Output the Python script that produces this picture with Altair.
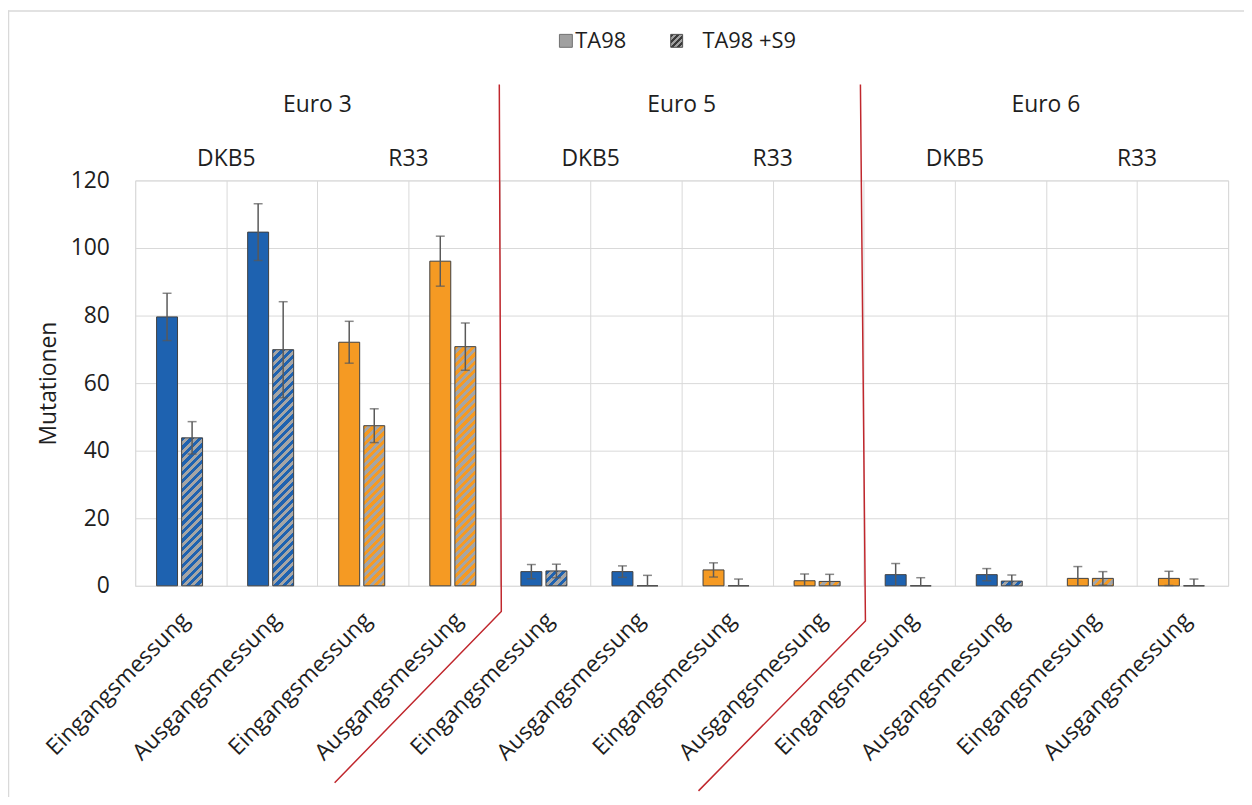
import altair as alt
import pandas as pd

# ---------------- data ----------------
groups = ["Euro 3", "Euro 5", "Euro 6"]
filters = ["DKB5", "R33"]
measures = ["Eingangsmessung", "Ausgangsmessung"]
series = ["TA98", "TA98 +S9"]

ta98 = [79.6, 104.7, 72.1, 96.1, 4.2, 4.2, 4.7, 1.5, 3.3, 3.3, 2.2, 2.2]
ta98_err = [7.0, 8.4, 6.2, 7.4, 2.1, 1.7, 2.1, 2.0, 3.3, 1.8, 3.5, 2.1]
s9 = [43.8, 69.9, 47.4, 70.8, 4.4, 0.0, 0.0, 1.3, 0.0, 1.4, 2.2, 0.0]
s9_err = [4.8, 14.2, 5.0, 7.0, 2.0, 3.1, 2.0, 2.1, 2.4, 1.8, 2.0, 2.0]

y_ticks = [0, 20, 40, 60, 80, 100, 120]

# red divider annotations (x in category units, y in data units)
divider1_x = [3.998, 4.02, 2.19]
divider1_y = [148.4, -7.6, -58.3]
divider2_x = [7.963, 8.018, 6.185]
divider2_y = [148.4, -10.4, -60.7]

# ---------------- style ----------------
W, H = 1100, 408
FONT = "Open Sans"
TXT = "#1E1E1E"
BLUE = "#1E62B0"
ORANGE = "#F59A23"
GREY = "#A5A5A5"
GRID = "#D9D9D9"
n_cat = 12
cat_px = W / n_cat
y_px = H / 120.0


def hatch(w, h, c1, c2, period):
    w = max(w, 0.5)
    h = max(h, 0.5)
    s = (w + h) / (w * w + h * h)
    n = (w + h) / period
    stops = []
    k = 0
    while k < n:
        a = min(k / n, 1)
        b = min((k + 0.5) / n, 1)
        c = min((k + 1) / n, 1)
        stops += [
            {"offset": a, "color": c1},
            {"offset": b, "color": c1},
            {"offset": b, "color": c2},
            {"offset": c, "color": c2},
        ]
        k += 1
    return {"gradient": "linear", "x1": 0, "y1": 0, "x2": w * s, "y2": h * s, "stops": stops}


rows = []
for i in range(n_cat):
    col = BLUE if (i // 2) % 2 == 0 else ORANGE
    for sidx, (vals, errs, a, b) in enumerate([(ta98, ta98_err, 0.235, 0.465), (s9, s9_err, 0.51, 0.74)]):
        v, e = vals[i], errs[i]
        rows.append({
            "key": f"k{i}_{sidx}",
            "series": series[sidx],
            "x0": i + a,
            "x1": i + b,
            "xc": i + (a + b) / 2,
            "val": v,
            "zero": 0.0,
            "lo": max(0.0, v - e),
            "hi": v + e,
            "has_lo": (v - e) > 0,
            "color": col,
        })
df = pd.DataFrame(rows)
df_ta = df[df["series"] == "TA98"]
df_s9 = df[df["series"] == "TA98 +S9"]

xscale = alt.Scale(domain=[0, 12])
yscale = alt.Scale(domain=[0, 120], nice=False)

x_axis = alt.Axis(values=list(range(13)), labels=False, ticks=False, domain=False,
                  grid=True, gridColor=GRID, gridWidth=1, title=None)
y_axis = alt.Axis(values=y_ticks, grid=True, gridColor=GRID, gridWidth=1, domain=False,
                  ticks=False, labelFont=FONT, labelFontSize=23, labelColor=TXT,
                  labelPadding=26, title="Mutationen", titleFont=FONT, titleFontSize=23,
                  titleFontWeight="normal", titleColor=TXT, titlePadding=10)

grid = alt.Chart(df).mark_bar(opacity=0).encode(
    x=alt.X("x0:Q", scale=xscale, axis=x_axis),
    x2="x1:Q",
    y=alt.Y("val:Q", scale=yscale, axis=y_axis),
    y2="zero:Q",
)

bars_ta = alt.Chart(df_ta).mark_bar(stroke="#404040", strokeWidth=1).encode(
    x=alt.X("x0:Q", scale=xscale),
    x2="x1:Q",
    y=alt.Y("val:Q", scale=yscale),
    y2="zero:Q",
    fill=alt.Fill("color:N", scale=None),
)

conds = []
for _, r in df_s9.iterrows():
    g = hatch(0.23 * cat_px, r["val"] * y_px, r["color"], GREY, 8.5)
    conds.append({"test": f"datum.key === '{r['key']}'", "value": g})

bars_s9 = alt.Chart(df_s9).mark_bar(stroke="#404040", strokeWidth=1).encode(
    x=alt.X("x0:Q", scale=xscale),
    x2="x1:Q",
    y=alt.Y("val:Q", scale=yscale),
    y2="zero:Q",
    fill={"condition": conds, "value": GREY},
)

err_rule = alt.Chart(df).mark_rule(color="#595959", strokeWidth=1.5).encode(
    x=alt.X("xc:Q", scale=xscale),
    y=alt.Y("lo:Q", scale=yscale),
    y2="hi:Q",
)
cap_hi = alt.Chart(df).mark_tick(color="#595959", thickness=1.5, size=9, orient="horizontal").encode(
    x=alt.X("xc:Q", scale=xscale),
    y=alt.Y("hi:Q", scale=yscale),
)
cap_lo = alt.Chart(df[df["has_lo"]]).mark_tick(color="#595959", thickness=1.5, size=9, orient="horizontal").encode(
    x=alt.X("xc:Q", scale=xscale),
    y=alt.Y("lo:Q", scale=yscale),
)

# red divider lines
div_rows = []
for lid, (xs, ys) in enumerate([(divider1_x, divider1_y), (divider2_x, divider2_y)]):
    for j, (xx, yy) in enumerate(zip(xs, ys)):
        div_rows.append({"line": lid, "order": j, "dx": xx, "dy": yy})
dividers = alt.Chart(pd.DataFrame(div_rows)).mark_line(color="#C0272D", strokeWidth=1.5, clip=False).encode(
    x=alt.X("dx:Q", scale=xscale),
    y=alt.Y("dy:Q", scale=yscale),
    detail="line:N",
    order="order:Q",
)

# headers
grp_df = pd.DataFrame({"label": groups, "xc": [2 + 4 * k for k in range(3)]})
flt_df = pd.DataFrame({"label": filters * 3, "xc": [1 + 2 * k for k in range(6)]})
grp_text = alt.Chart(grp_df).mark_text(font=FONT, fontSize=23, color=TXT, baseline="middle").encode(
    x=alt.X("xc:Q", scale=xscale), y=alt.value(-76), text="label:N")
flt_text = alt.Chart(flt_df).mark_text(font=FONT, fontSize=23, color=TXT, baseline="middle").encode(
    x=alt.X("xc:Q", scale=xscale), y=alt.value(-22), text="label:N")

# rotated category labels
lab_df = pd.DataFrame({"label": measures * 6, "xc": [i + 0.5 + 5 / cat_px for i in range(12)]})
lab_text = alt.Chart(lab_df).mark_text(font=FONT, fontSize=23, color=TXT, angle=315, align="right",
                                       baseline="middle").encode(
    x=alt.X("xc:Q", scale=xscale), y=alt.value(H + 31), text="label:N")

# legend
one = pd.DataFrame({"k": [0]})
leg_sq1 = alt.Chart(one).mark_bar(fill="#A0A0A0", stroke="#707070", strokeWidth=1).encode(
    x=alt.value(427), x2=alt.value(440), y=alt.value(-147), y2=alt.value(-134))
leg_sq2 = alt.Chart(one).mark_bar(fill=hatch(12, 12, "#3A3A3A", "#A0A0A0", 6.0), stroke="#505050", strokeWidth=1).encode(
    x=alt.value(539), x2=alt.value(551), y=alt.value(-147), y2=alt.value(-134))
leg_t1 = alt.Chart(one).mark_text(text=series[0], font=FONT, fontSize=22, color=TXT, align="left", baseline="middle").encode(
    x=alt.value(443), y=alt.value(-140))
leg_t2 = alt.Chart(one).mark_text(text=series[1], font=FONT, fontSize=22, color=TXT, align="left", baseline="middle").encode(
    x=alt.value(571), y=alt.value(-140))

# outer frame (top/left edges)
frame_l = alt.Chart(one).mark_rule(color=GRID, strokeWidth=1.5).encode(
    x=alt.value(-127.5), y=alt.value(-171), y2=alt.value(H + 250))
frame_t = alt.Chart(one).mark_rule(color=GRID, strokeWidth=1.5).encode(
    x=alt.value(-128), x2=alt.value(W + 50), y=alt.value(-170.5))

chart = alt.layer(
    grid, frame_l, frame_t, bars_ta, bars_s9, err_rule, cap_hi, cap_lo, dividers,
    grp_text, flt_text, lab_text, leg_sq1, leg_sq2, leg_t1, leg_t2,
).properties(
    width=W, height=H,
    autosize=alt.AutoSizeParams(type="none"),
    padding={"left": 128, "top": 171, "right": 16, "bottom": 210},
).configure_view(stroke=None).configure(background="white")

chart.save("out.html", embed_options={"renderer": "svg", "actions": False})
